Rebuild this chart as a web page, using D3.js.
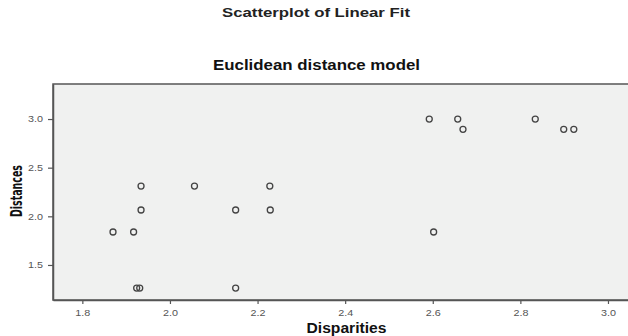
<!DOCTYPE html>
<html>
<head>
<meta charset="utf-8">
<script src="https://cdn.jsdelivr.net/npm/d3@7"></script>
<style>
  body { margin: 0; background: #fff; }
  svg { display: block; }
</style>
</head>
<body>
<div id="chart"></div>
<script>
// disparities (x) and distances (y)
const disparities = [1.934, 2.056, 2.228, 1.934, 2.150, 2.229, 1.870, 1.917, 1.924, 1.931, 2.150,
                     2.592, 2.657, 2.669, 2.834, 2.899, 2.922, 2.602];
const distances   = [2.311, 2.311, 2.311, 2.065, 2.065, 2.065, 1.839, 1.839, 1.263, 1.263, 1.263,
                     3.000, 3.000, 2.894, 3.000, 2.894, 2.894, 1.839];
const xTicks = [1.8, 2.0, 2.2, 2.4, 2.6, 2.8, 3.0];
const yTicks = [1.5, 2.0, 2.5, 3.0];

const W = 628, H = 336;
const plot = {left: 53, top: 84, right: 629, bottom: 300};
const FONT = "Arial, 'Liberation Sans', sans-serif";

const svg = d3.select("#chart").append("svg")
    .attr("width", W)
    .attr("height", H)
    .style("font-family", FONT);

const x = d3.scaleLinear().domain([1.733, 3.048]).range([plot.left, plot.right]);
const y = d3.scaleLinear().domain([1.14, 3.36]).range([plot.bottom, plot.top]);

// the source image is stretched sideways, so texts get a fixed length
function label(sel, len) {
    return sel.attr("textLength", len).attr("lengthAdjust", "spacingAndGlyphs");
}

label(svg.append("text")
    .attr("x", 316).attr("y", 17)
    .attr("text-anchor", "middle")
    .style("font-size", "13.5px").style("font-weight", "bold").attr("fill", "#222")
    .text("Scatterplot of Linear Fit"), 188);

label(svg.append("text")
    .attr("x", 316.5).attr("y", 70)
    .attr("text-anchor", "middle")
    .style("font-size", "14px").style("font-weight", "bold").attr("fill", "#111")
    .text("Euclidean distance model"), 207);

// plot frame
svg.append("rect")
    .attr("x", plot.left).attr("y", plot.top)
    .attr("width", plot.right - plot.left).attr("height", plot.bottom - plot.top)
    .attr("fill", "#f0f1f0")
    .attr("stroke", "#555").attr("stroke-width", 1.5);

const xAxis = svg.append("g")
    .attr("transform", `translate(0,${plot.bottom})`)
    .call(d3.axisBottom(x).tickValues(xTicks).tickFormat(d3.format(".1f")).tickSize(4).tickSizeOuter(0));
const yAxis = svg.append("g")
    .attr("transform", `translate(${plot.left},0)`)
    .call(d3.axisLeft(y).tickValues(yTicks).tickFormat(d3.format(".1f")).tickSize(5).tickSizeOuter(0));

[xAxis, yAxis].forEach(g => {
    g.select(".domain").attr("stroke", "#555").attr("stroke-width", 1.5);
    g.selectAll(".tick line").attr("stroke", "#555").attr("stroke-width", 1.2);
    label(g.selectAll(".tick text")
        .attr("fill", "#555")
        .style("font-size", "9px")
        .style("font-family", FONT), 15);
});
xAxis.selectAll(".tick text").attr("dy", "0.95em");
yAxis.selectAll(".tick text").attr("x", -10);

svg.append("g")
    .selectAll("circle")
    .data(disparities.map((d, i) => [d, distances[i]]))
    .join("circle")
    .attr("cx", d => x(d[0]))
    .attr("cy", d => y(d[1]))
    .attr("r", 3)
    .attr("fill", "none")
    .attr("stroke", "#444")
    .attr("stroke-width", 1.3);

label(svg.append("text")
    .attr("x", 346.5).attr("y", 333)
    .attr("text-anchor", "middle")
    .style("font-size", "14px").style("font-weight", "bold").attr("fill", "#111")
    .text("Disparities"), 80);

label(svg.append("text")
    .attr("transform", "translate(22,191) rotate(-90)")
    .attr("text-anchor", "middle")
    .style("font-size", "15px").style("font-weight", "bold")
    .style("font-family", "'DejaVu Sans Condensed', 'Liberation Sans Narrow', Arial, sans-serif")
    .attr("fill", "#111")
    .text("Distances"), 52);
</script>
</body>
</html>
